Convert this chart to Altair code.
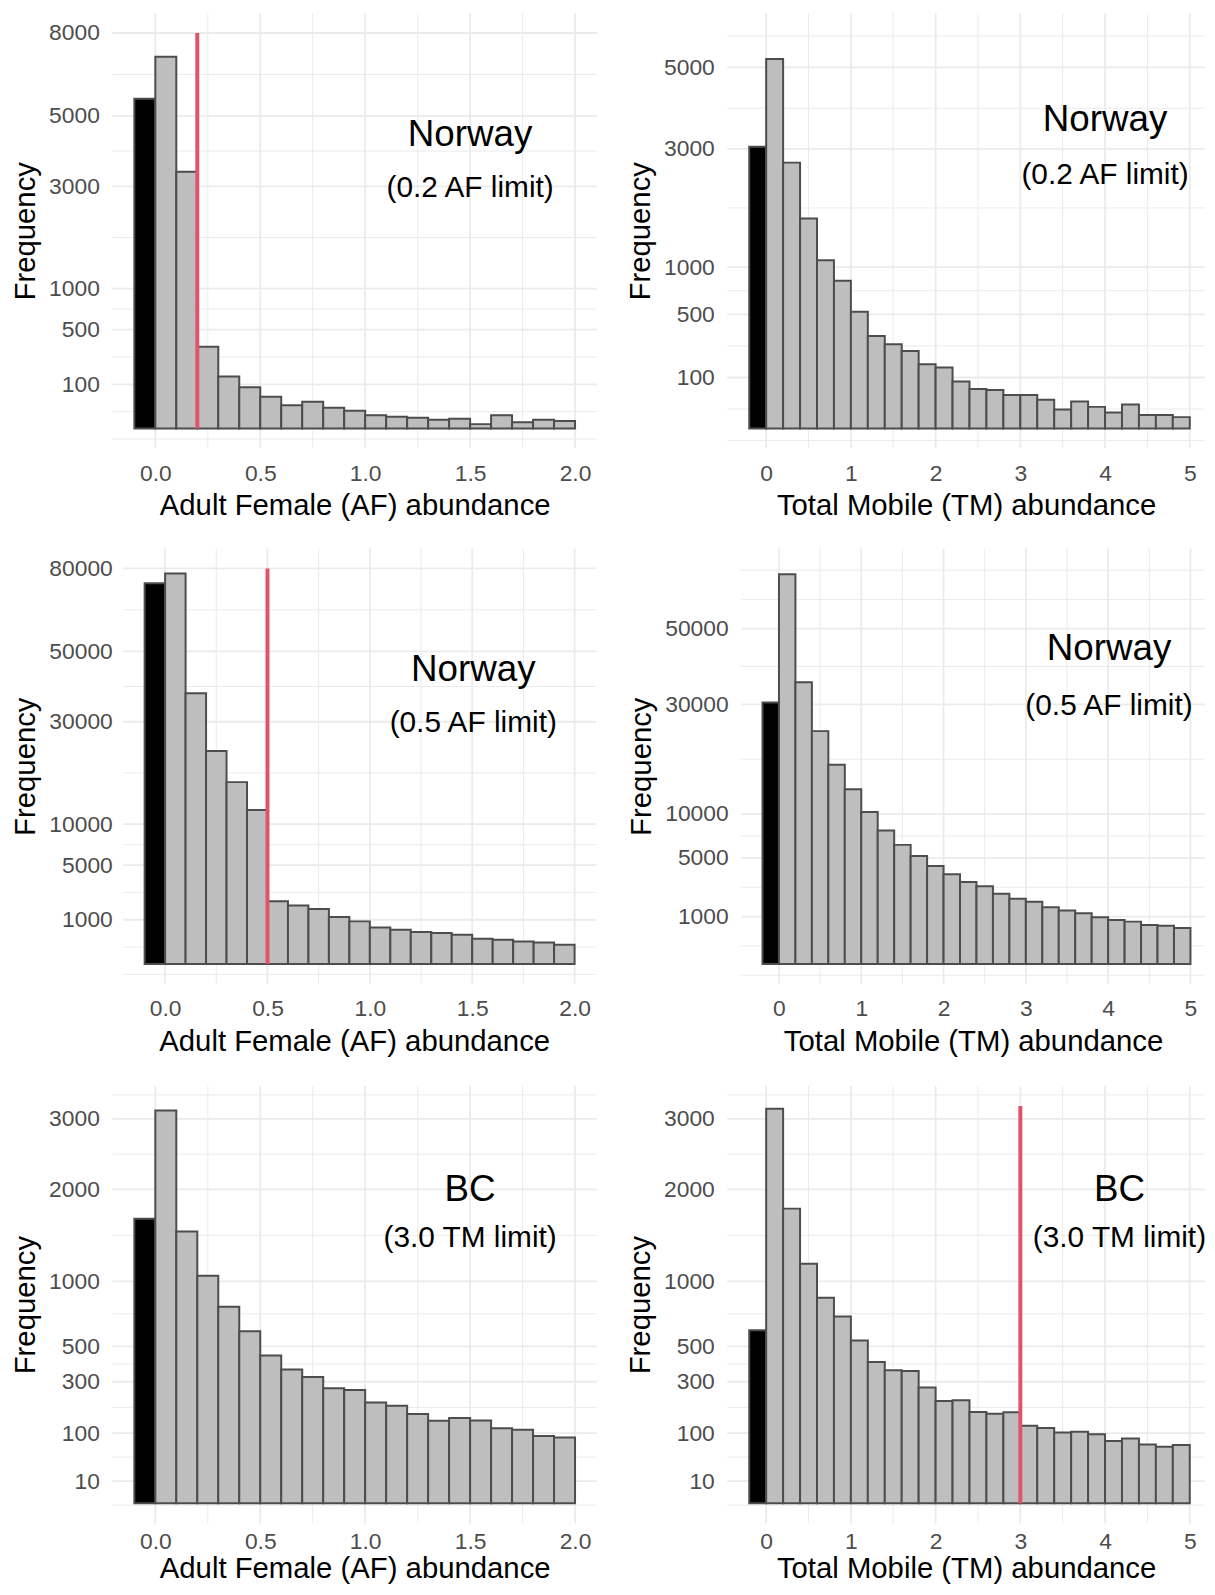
import math
import altair as alt
import pandas as pd

FONT = "Liberation Sans"

# ---------------- data ----------------
AF_BINS = [-0.1, 0.0, 0.1, 0.2, 0.3, 0.4, 0.5, 0.6, 0.7, 0.8, 0.9,
           1.0, 1.1, 1.2, 1.3, 1.4, 1.5, 1.6, 1.7, 1.8, 1.9]
AF_BIN_WIDTH = 0.1
TM_BINS = [-0.2, 0.0, 0.2, 0.4, 0.6, 0.8, 1.0, 1.2, 1.4, 1.6, 1.8, 2.0, 2.2,
           2.4, 2.6, 2.8, 3.0, 3.2, 3.4, 3.6, 3.8, 4.0, 4.2, 4.4, 4.6, 4.8]
TM_BIN_WIDTH = 0.2

NOR02_AF = [5562, 7072, 3372, 342, 138, 87, 52, 28, 37, 22, 16, 9, 7, 6, 4, 5, 1, 9, 2, 4, 3]
NOR02_TM = [3045, 5239, 2712, 1692, 1086, 837, 523, 329, 273, 231, 159, 143, 85, 60, 57,
            43, 43, 32, 14, 28, 18, 10, 22, 7, 7, 5]
NOR05_AF = [74160, 78000, 37490, 23210, 16910, 12130, 2013, 1743, 1548, 1128, 928,
            684, 599, 520, 487, 436, 324, 298, 258, 236, 187]
NOR05_TM = [30420, 67560, 35300, 24120, 17650, 13570, 10290, 7937, 6310, 5188, 4263,
            3588, 2996, 2685, 2198, 1893, 1721, 1436, 1271, 1146, 971, 862, 798, 676, 653, 575]
BC30_AF = [1643, 3133, 1501, 1051, 785, 601, 444, 364, 324, 269, 261, 206, 193, 162,
           138, 148, 139, 114, 110, 92, 88]
BC30_TM = [608, 3160, 1763, 1165, 857, 708, 538, 406, 360, 355, 272, 212, 216, 169,
           163, 168, 122, 115, 102, 104, 97, 79, 85, 70, 65, 69]

AF_TICKS = [0.0, 0.5, 1.0, 1.5, 2.0]
TM_TICKS = [0, 1, 2, 3, 4, 5]
Y_TICKS_NOR02_AF = [100, 500, 1000, 3000, 5000, 8000]
Y_TICKS_NOR02_TM = [100, 500, 1000, 3000, 5000]
Y_TICKS_NOR05_AF = [1000, 5000, 10000, 30000, 50000, 80000]
Y_TICKS_NOR05_TM = [1000, 5000, 10000, 30000, 50000]
Y_TICKS_BC = [10, 100, 300, 500, 1000, 2000, 3000]

# upper y limits (in counts) of each panel
Y_MAX = {"nor02_af": 8000, "nor02_tm": 6000, "nor05_af": 80000,
         "nor05_tm": 69600, "bc_af": 3206, "bc_tm": 3206}

# limit lines: (x, top)
LIMIT_NOR02 = (0.2, 8000)
LIMIT_NOR05 = (0.5, 80000)
LIMIT_BC = (3.0, 3206)

# annotation labels: (x, y, text)
ANN = {
    "nor02_af": [(1.5, 4406, "Norway"), (1.5, 2945, "(0.2 AF limit)")],
    "nor02_tm": [(4.0, 3657, "Norway"), (4.0, 2457, "(0.2 AF limit)")],
    "nor05_af": [(1.505, 44300, "Norway"), (1.505, 29580, "(0.5 AF limit)")],
    "nor05_tm": [(4.01, 44180, "Norway"), (4.01, 29690, "(0.5 AF limit)")],
    "bc_af": [(1.5, 1988, "BC"), (1.5, 1430, "(3.0 TM limit)")],
    "bc_tm": [(4.17, 1988, "BC"), (4.17, 1430, "(3.0 TM limit)")],
}

AF_TITLE = "Adult Female (AF) abundance"
TM_TITLE = "Total Mobile (TM) abundance"

GRID = "#EBEBEB"
RED = "#DF536B"
AF_LIMITS = [-0.205, 2.105]
TM_LIMITS = [-0.46, 5.26]


def s_fwd(v):
    return math.copysign(math.sqrt(abs(v)), v)


def s_inv(v):
    return math.copysign(v * v, v)


def minor_breaks(majors, lo, hi, fwd, inv):
    b = [fwd(v) for v in majors]
    tlo, thi = fwd(lo), fwd(hi)
    bd = b[1] - b[0]
    if tlo < b[0]:
        b = [b[0] - bd] + b
    if thi > b[-1]:
        b = b + [b[-1] + bd]
    mids = [(a + c) / 2 for a, c in zip(b[:-1], b[1:])]
    maj = [fwd(v) for v in majors]
    out = []
    for c in mids + b:
        if tlo <= c <= thi and all(abs(c - m) > 1e-9 for m in maj):
            out.append(inv(c))
    return out


def panel(key, bins, bw, counts, xdom, glim, xticks, xfmt, xtitle, yticks,
          width, height, limit=None, xlabpad=14, xtitpad=7, ylabpad=13):
    M = math.sqrt(Y_MAX[key])
    ydom = [-(0.05 * M) ** 2, (1.05 * M) ** 2]
    xs = alt.Scale(domain=xdom, nice=False, zero=False)
    ys = alt.Scale(type="sqrt", domain=ydom, nice=False, zero=False)
    xax = alt.Axis(values=xticks, format=xfmt, title=xtitle,
                   labelPadding=xlabpad, titlePadding=xtitpad)
    yax = alt.Axis(values=yticks, format="d", title="Frequency",
                   labelPadding=ylabpad)

    def X(f):
        return alt.X(f, scale=xs, axis=xax)

    def Y(f):
        return alt.Y(f, scale=ys, axis=yax)

    df = pd.DataFrame({
        "start": bins,
        "end": [b + bw for b in bins],
        "count": counts,
        "kind": ["zero"] + ["pos"] * (len(bins) - 1),
    })

    ident = lambda v: v
    xminor = minor_breaks(xticks, glim[0], glim[1], ident, ident)
    yminor = minor_breaks(yticks, ydom[0], ydom[1], s_fwd, s_inv)
    g0 = max(glim[0], xdom[0])
    g1 = min(glim[1], xdom[1])

    layers = []
    # vertical grid lines (minor thin, major thicker)
    for vals, w in ((xminor, 1.0), (xticks, 1.8)):
        layers.append(
            alt.Chart(pd.DataFrame({"v": vals})).mark_rule(
                color=GRID, strokeWidth=w
            ).encode(x=X("v:Q"))
        )
    # horizontal grid lines spanning the panel's limits
    for vals, w in ((yminor, 1.0), (yticks, 1.8)):
        gdf = pd.DataFrame({"v": vals, "a": [g0] * len(vals), "b": [g1] * len(vals)})
        layers.append(
            alt.Chart(gdf).mark_rule(color=GRID, strokeWidth=w).encode(
                y=Y("v:Q"), x=X("a:Q"), x2="b:Q"
            )
        )
    bars = alt.Chart(df).mark_bar(stroke="#4D4D4D", strokeWidth=2).encode(
        x=X("start:Q"),
        x2="end:Q",
        y=Y("count:Q"),
        y2=alt.datum(0),
        fill=alt.Fill("kind:N",
                      scale=alt.Scale(domain=["zero", "pos"],
                                      range=["#000000", "#BEBEBE"]),
                      legend=None),
    )
    layers.append(bars)
    if limit is not None:
        ldf = pd.DataFrame({"x": [limit[0]], "y": [0], "y2": [limit[1]]})
        layers.append(
            alt.Chart(ldf).mark_rule(color=RED, strokeWidth=4).encode(
                x=X("x:Q"),
                y=Y("y:Q"),
                y2="y2:Q",
            )
        )
    ann = ANN[key]
    for (ax, ay, t), fs in zip(ann, [37, 30]):
        layers.append(
            alt.Chart(pd.DataFrame({"x": [ax], "y": [ay], "t": [t]})).mark_text(
                font=FONT, fontSize=fs, color="black", align="center", baseline="middle"
            ).encode(
                x=X("x:Q"),
                y=Y("y:Q"),
                text="t:N",
            )
        )
    return alt.layer(*layers).properties(width=width, height=height)


tl = panel("nor02_af", AF_BINS, AF_BIN_WIDTH, NOR02_AF, AF_LIMITS, AF_LIMITS, AF_TICKS,
           ".1f", AF_TITLE, Y_TICKS_NOR02_AF, 488, 438, LIMIT_NOR02)
tr = panel("nor02_tm", TM_BINS, TM_BIN_WIDTH, NOR02_TM, [-0.46, 5.18], TM_LIMITS, TM_TICKS,
           "d", TM_TITLE, Y_TICKS_NOR02_TM, 481, 438)
ml = panel("nor05_af", AF_BINS, AF_BIN_WIDTH, NOR05_AF, [-0.258, 2.105], AF_LIMITS, AF_TICKS,
           ".1f", AF_TITLE, Y_TICKS_NOR05_AF, 487, 438, LIMIT_NOR05, ylabpad=0)
mr = panel("nor05_tm", TM_BINS, TM_BIN_WIDTH, NOR05_TM, [-0.46, 5.177], TM_LIMITS, TM_TICKS,
           "d", TM_TITLE, Y_TICKS_NOR05_TM, 467, 438)
bl = panel("bc_af", AF_BINS, AF_BIN_WIDTH, BC30_AF, AF_LIMITS, AF_LIMITS, AF_TICKS,
           ".1f", AF_TITLE, Y_TICKS_BC, 488, 440, xlabpad=8, xtitpad=1)
br = panel("bc_tm", TM_BINS, TM_BIN_WIDTH, BC30_TM, [-0.46, 5.18], TM_LIMITS, TM_TICKS,
           "d", TM_TITLE, Y_TICKS_BC, 481, 440, LIMIT_BC, xlabpad=8, xtitpad=1)

row1 = alt.concat(tl, tr, spacing=27)
row2 = alt.concat(ml, mr, spacing=30)
row3 = alt.concat(bl, br, spacing=27)

top2 = alt.concat(row1, row2, columns=1, spacing=27)
chart = alt.concat(top2, row3, columns=1, spacing=29).properties(
    padding={"left": 2, "top": -1, "right": 0, "bottom": -4}
).configure_view(stroke=None).configure_axis(
    domain=False, ticks=False, grid=False,
    labelFont=FONT, labelFontSize=23, labelColor="#4D4D4D",
    titleFont=FONT, titleFontSize=29.5, titleFontWeight="normal", titleColor="#000000",
    labelOverlap=False, labelFlush=False,
).configure_axisY(
    titlePadding=8
)

chart.save("out.html", embed_options={"renderer": "svg", "actions": False})
